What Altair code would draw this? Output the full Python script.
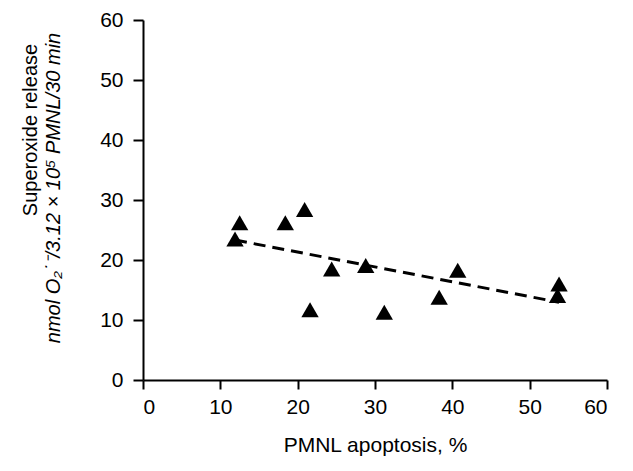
import altair as alt
import pandas as pd

# Data
apoptosis = [12.5, 11.9, 18.4, 20.9, 21.6, 24.4, 28.8, 31.2, 38.3, 40.7, 53.8, 53.6]
superoxide = [26.2, 23.5, 26.2, 28.4, 11.7, 18.5, 19.1, 11.3, 13.8, 18.3, 16.0, 14.1]
x_ticks = [0, 10, 20, 30, 40, 50, 60]
y_ticks = [0, 10, 20, 30, 40, 50, 60]
x_title = "PMNL apoptosis, %"
y_title_1 = "Superoxide release"
y_title_2 = "nmol O\u2082\u02d9\u207b/3.12 \u00d7 10\u2075 PMNL/30 min"

FONT = "Liberation Sans"
FS = 21

df = pd.DataFrame({"x": apoptosis, "y": superoxide})

x_scale = alt.Scale(domain=[0, 60], nice=False, zero=True)
y_scale = alt.Scale(domain=[0, 60], nice=False, zero=True)

x_axis = alt.Axis(values=x_ticks, title=x_title, grid=False, domainColor="black",
                  domainWidth=2, tickColor="black", tickWidth=2, tickSize=9,
                  labelFont=FONT, labelFontSize=FS, labelColor="black", labelPadding=7,
                  titleFont=FONT, titleFontSize=FS, titleFontWeight="normal",
                  titleColor="black", titlePadding=17)
y_axis = alt.Axis(values=y_ticks, title=None, grid=False, domainColor="black",
                  domainWidth=2, tickColor="black", tickWidth=2, tickSize=10,
                  labelFont=FONT, labelFontSize=FS, labelColor="black", labelPadding=10)

base = alt.Chart(df)

points = base.mark_point(shape="triangle-up", filled=True, color="black", opacity=1, size=300).encode(
    x=alt.X("x:Q", scale=x_scale, axis=x_axis),
    y=alt.Y("y:Q", scale=y_scale, axis=y_axis),
)

trend = base.transform_regression("x", "y").mark_line(
    color="black", strokeWidth=3, strokeDash=[12, 7]
).encode(x=alt.X("x:Q", scale=x_scale), y=alt.Y("y:Q", scale=y_scale))

t1 = alt.Chart(pd.DataFrame({"t": [y_title_1]})).mark_text(
    angle=270, font=FONT, fontSize=20, color="black", align="center", baseline="middle"
).encode(x=alt.value(-112), y=alt.value(110), text="t:N")

t2 = alt.Chart(pd.DataFrame({"t": [y_title_2]})).mark_text(
    angle=270, font=FONT, fontSize=20, fontStyle="italic", color="black",
    align="center", baseline="middle"
).encode(x=alt.value(-89), y=alt.value(168), text="t:N")

chart = alt.layer(trend, points, t1, t2).properties(
    width=464, height=360,
    padding={"left": 135, "top": 12, "right": 10, "bottom": 83},
    autosize=alt.AutoSizeParams(type="none"),
).configure_view(stroke=None)

chart.save("out.html", embed_options={"renderer": "svg", "actions": False})
